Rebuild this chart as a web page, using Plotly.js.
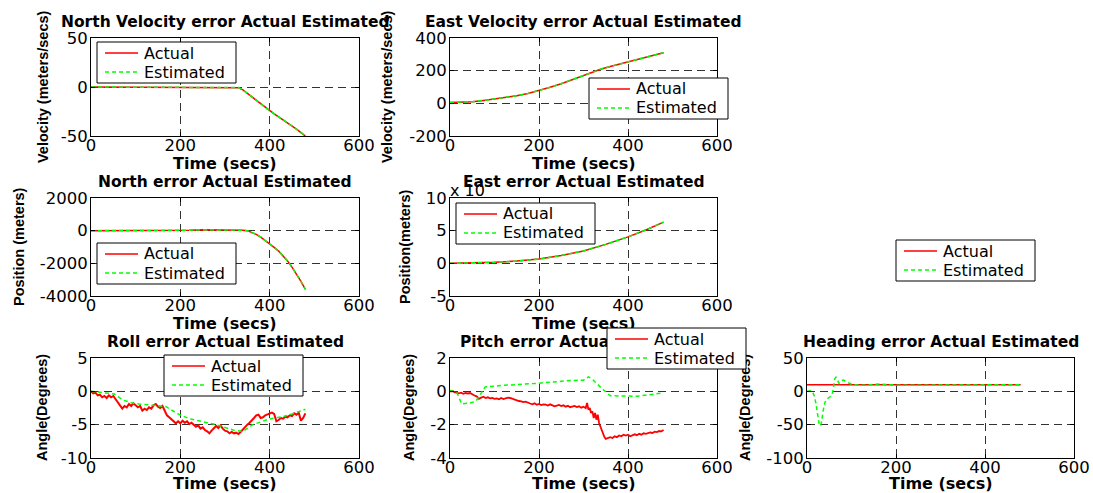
<!DOCTYPE html>
<html>
<head>
<meta charset="utf-8">
<script src="https://cdn.plot.ly/plotly-3.0.1.min.js"></script>
<style>html,body{margin:0;padding:0;background:#fff;}#chart{width:1093px;height:493px;}</style>
</head>
<body>
<div id="chart"></div>
<script>
// ---------------- DATA ----------------
const seriesNames = ['Actual', 'Estimated'];
const timeTicks = [0, 200, 400, 600];
const timeTickText = ['0', '200', '400', '600'];

// North velocity error (m/s)
const tNorthVel = [0, 50, 100, 150, 200, 250, 300, 320, 330, 340, 350, 360, 370, 380, 390, 400, 410, 420, 430, 440, 450, 460, 470, 480];
const northVelActual = [0, 0, 0, 0, 0, 0, 0, 0, -0.7, -3, -6.5, -10, -13.5, -17, -21, -24.5, -27.5, -30.5, -33.5, -36.5, -39.5, -43, -46.5, -50];
const northVelEst = [0, 0, 0, 0, 0, 0, 0, 0, -0.6, -3, -6.4, -10, -13.6, -17, -21, -24.4, -27.6, -30.5, -33.5, -36.6, -39.5, -43, -46.4, -50];
const velTicks = [-50, 0, 50];
const velTickText = ['-50', '0', '50'];

// East velocity error (m/s)
const tEastVel = [0, 25, 50, 75, 100, 125, 150, 175, 200, 225, 250, 275, 300, 325, 340, 360, 380, 400, 420, 440, 460, 480];
const eastVelActual = [5, 7, 10, 18, 27, 36, 46, 60, 78, 98, 120, 145, 170, 195, 210, 225, 240, 255, 268, 282, 296, 310];
const eastVelEst = [5, 7, 10, 18, 27, 36, 46, 60, 78, 98, 120, 145, 170, 195, 210, 225, 240, 255, 268, 282, 296, 310];
const eVelTicks = [-200, 0, 200, 400];
const eVelTickText = ['-200', '0', '200', '400'];

// North position error (m)
const tNorthPos = [0, 50, 100, 150, 200, 220, 250, 300, 340, 350, 360, 370, 380, 390, 400, 410, 420, 430, 440, 450, 460, 470, 480];
const northPosActual = [0, 0, 0, 0, 0, 20, 50, 60, 30, 0, -100, -230, -400, -590, -800, -1020, -1250, -1530, -1850, -2230, -2650, -3100, -3600];
const northPosEst = [0, 0, 0, 0, 0, 25, 55, 60, 30, 0, -100, -230, -400, -590, -800, -1020, -1250, -1530, -1850, -2230, -2650, -3100, -3600];
const nPosTicks = [-4000, -2000, 0, 2000];
const nPosTickText = ['-4000', '-2000', '0', '2000'];

// East position error (x 10^4 m)
const tEastPos = [0, 50, 100, 150, 200, 250, 300, 350, 400, 440, 480];
const eastPosActual = [0, 0.05, 0.15, 0.35, 0.65, 1.2, 1.9, 2.9, 4.05, 5.1, 6.3];
const eastPosEst = [0, 0.05, 0.15, 0.35, 0.65, 1.2, 1.9, 2.9, 4.05, 5.1, 6.3];
const ePosTicks = [-5, 0, 5, 10];
const ePosTickText = ['-5', '0', '5', '10'];

// Roll error (deg)
const tRoll = [0,5,10,15,20,25,30,35,40,45,50,55,60,65,70,75,80,85,90,95,100,105,110,115,120,125,130,135,140,145,150,155,160,165,170,175,180,185,190,195,200,205,210,215,220,225,230,235,240,245,250,255,260,265,270,275,280,285,290,295,300,305,310,315,320,325,330,335,340,345,350,355,360,365,370,375,380,385,390,395,400,405,410,415,420,425,430,435,440,445,450,455,460,465,470,475,480];
const rollActual = [0,-0.3,-0.2,-0.6,-0.5,-0.9,-0.7,-1.0,-0.6,-0.9,-0.7,-1.2,-1.6,-2.0,-2.6,-2.2,-2.4,-1.9,-2.2,-1.8,-2.1,-2.4,-2.2,-2.9,-2.6,-2.8,-2.4,-2.6,-2.1,-1.9,-2.3,-2.5,-2.2,-3.0,-3.6,-3.9,-4.2,-4.4,-4.8,-4.5,-4.8,-4.4,-4.7,-4.5,-4.9,-4.7,-5.0,-5.3,-5.1,-5.6,-5.4,-5.8,-6.0,-6.3,-5.9,-5.6,-5.2,-5.5,-5.1,-5.6,-5.9,-6.0,-6.3,-6.1,-6.3,-6.2,-6.4,-6.1,-5.7,-5.3,-5.0,-4.7,-4.4,-4.0,-3.6,-3.5,-4.0,-3.9,-3.6,-3.5,-3.4,-3.2,-3.4,-4.5,-4.3,-4.0,-4.1,-3.8,-3.9,-3.6,-3.7,-3.3,-3.5,-3.2,-4.4,-4.0,-3.3];
const tRollEst = [0, 20, 40, 52, 60, 71, 90, 108, 140, 168, 180, 198, 220, 243, 260, 280, 300, 318, 340, 350, 362, 380, 392, 410, 430, 450, 480];
const rollEst = [0, -0.2, -0.3, -0.4, -0.8, -1.3, -1.7, -1.9, -2.1, -2.3, -2.8, -3.5, -4.1, -4.5, -4.7, -5.0, -5.4, -5.8, -6.0, -5.6, -5.0, -4.6, -4.3, -4.0, -3.8, -3.4, -2.7];
const rollTicks = [-10, -5, 0, 5];
const rollTickText = ['-10', '-5', '0', '5'];

// Pitch error (deg)
const tPitch = [0,5,10,15,20,25,30,35,40,45,50,55,60,65,70,75,80,85,90,95,100,105,110,115,120,125,130,135,140,145,150,155,160,165,170,175,180,185,190,195,200,205,210,215,220,225,230,235,240,245,250,255,260,265,270,275,280,285,290,295,300,305,308,311,314,317,320,323,326,329,332,335,338,341,344,347,350,355,360,365,370,375,380,385,390,395,400,405,410,415,420,425,430,435,440,445,450,455,460,465,470,475,480];
const pitchActual = [0,0.02,-0.05,-0.1,-0.12,-0.08,-0.15,-0.1,-0.13,-0.1,-0.2,-0.25,-0.3,-0.45,-0.38,-0.32,-0.4,-0.36,-0.42,-0.4,-0.45,-0.43,-0.48,-0.4,-0.46,-0.42,-0.38,-0.4,-0.45,-0.5,-0.52,-0.58,-0.6,-0.65,-0.62,-0.7,-0.73,-0.78,-0.72,-0.8,-0.76,-0.82,-0.78,-0.8,-0.85,-0.78,-0.84,-0.9,-0.86,-0.82,-0.88,-0.84,-0.92,-0.87,-0.95,-0.9,-0.88,-0.94,-0.9,-0.98,-0.92,-1.0,-0.7,-1.1,-1.0,-1.3,-1.2,-1.6,-1.3,-1.7,-1.4,-1.9,-2.1,-2.4,-2.6,-2.75,-2.85,-2.8,-2.75,-2.8,-2.7,-2.75,-2.65,-2.7,-2.6,-2.65,-2.6,-2.7,-2.62,-2.58,-2.63,-2.55,-2.6,-2.52,-2.55,-2.5,-2.47,-2.5,-2.42,-2.45,-2.38,-2.4,-2.32];
const tPitchEst = [0, 15, 26, 45, 58, 79, 120, 195, 270, 300, 311, 319, 340, 360, 420, 478];
const pitchEst = [0.05, -0.05, -0.75, -0.7, -0.6, 0.26, 0.36, 0.48, 0.65, 0.67, 0.87, 0.75, 0.2, -0.26, -0.3, -0.1];
const pitchTicks = [-4, -2, 0, 2];
const pitchTickText = ['-4', '-2', '0', '2'];

// Heading error (deg)
const tHeading = [0, 100, 200, 300, 400, 480];
const headingActual = [10, 10, 10, 10, 10, 10];
const tHeadingEst = [0,5,10,14,17,20,23,27,30,33,36,40,44,48,52,56,59,62,65,68,72,77,82,88,95,103,126,163,201,240,276,320,351,400,426,478];
const headingEst = [0,1,1,-3,-8,-18,-32,-48,-52,-45,-30,-17,-12,-10,-9,-6,3,18,21,17,12,16,17,14,12,10,9,11,9,9,10,10,10,9,9,10];
const headTicks = [-100, -50, 0, 50];
const headTickText = ['-100', '-50', '0', '50'];

// ---------------- LAYOUT HELPERS ----------------
const W = 1093, H = 493;
const px = v => v / W;
const py = v => 1 - v / H;

const RED = '#ff0000', GREEN = '#00ff00';
const DASH = '4px,3px';
const TICKFONT = {family: 'DejaVu Sans', size: 16.5, color: '#000'};

function mkTrace(x, y, xa, ya, name, width) {
  const isAct = name === seriesNames[0];
  return {
    x: x, y: y, xaxis: xa, yaxis: ya, name: name, showlegend: false,
    type: 'scatter', mode: 'lines',
    line: isAct ? {color: RED, width: width || 1.5} : {color: GREEN, width: 1.5, dash: DASH},
    hoverinfo: 'skip'
  };
}

const data = [
  mkTrace(tNorthVel, northVelActual, 'x', 'y', seriesNames[0]),
  mkTrace(tNorthVel, northVelEst, 'x', 'y', seriesNames[1]),
  mkTrace(tEastVel, eastVelActual, 'x2', 'y2', seriesNames[0]),
  mkTrace(tEastVel, eastVelEst, 'x2', 'y2', seriesNames[1]),
  mkTrace(tNorthPos, northPosActual, 'x3', 'y3', seriesNames[0]),
  mkTrace(tNorthPos, northPosEst, 'x3', 'y3', seriesNames[1]),
  mkTrace(tEastPos, eastPosActual, 'x4', 'y4', seriesNames[0]),
  mkTrace(tEastPos, eastPosEst, 'x4', 'y4', seriesNames[1]),
  mkTrace(tRoll, rollActual, 'x5', 'y5', seriesNames[0], 2),
  mkTrace(tRollEst, rollEst, 'x5', 'y5', seriesNames[1]),
  mkTrace(tPitch, pitchActual, 'x6', 'y6', seriesNames[0], 1.8),
  mkTrace(tPitchEst, pitchEst, 'x6', 'y6', seriesNames[1]),
  mkTrace(tHeading, headingActual, 'x7', 'y7', seriesNames[0]),
  mkTrace(tHeadingEst, headingEst, 'x7', 'y7', seriesNames[1])
];

// plot areas in pixels: [left, right] / [top, bottom]
const cols = [[91, 359], [450, 717], [807, 1074]];
const rows = [[38, 136], [198, 296], [358, 458]];

function axisCommon() {
  return {
    showline: true, mirror: 'ticks', linecolor: '#000', linewidth: 1,
    ticks: 'inside', ticklen: 4, tickcolor: '#000',
    showgrid: true, gridcolor: '#333', griddash: '8px,5px', gridwidth: 1,
    zeroline: false, tickfont: TICKFONT, fixedrange: true, tickmode: 'array'
  };
}
function xAxis(col, anchor) {
  return Object.assign(axisCommon(), {
    domain: [px(cols[col][0]), px(cols[col][1])], anchor: anchor,
    range: [0, 600], tickvals: timeTicks, ticktext: timeTickText, ticklabelstandoff: -6
  });
}
function yAxis(row, anchor, rng, vals, txt) {
  return Object.assign(axisCommon(), {
    domain: [py(rows[row][1]), py(rows[row][0])], anchor: anchor,
    range: rng, tickvals: vals, ticktext: txt, ticklabelstandoff: -1
  });
}

const TITLEFONT = {family: 'DejaVu Sans', size: 15.5, color: '#000', weight: 'bold'};
const XTFONT = {family: 'DejaVu Sans', size: 16, color: '#000', weight: 'bold'};
const YTFONT = {family: 'Liberation Sans', size: 14.5, color: '#000', weight: 'bold'};
const LEGFONT = {family: 'DejaVu Sans', size: 16, color: '#000'};

function ann(text, x, y, font, opts) {
  return Object.assign({text: text, x: px(x), y: py(y), xref: 'paper', yref: 'paper',
          showarrow: false, xanchor: 'center', yanchor: 'middle', borderpad: 0,
          font: font}, opts || {});
}

const titles = ['North Velocity error Actual Estimated', 'East Velocity error Actual Estimated',
  'North error Actual Estimated', 'East error Actual Estimated',
  'Roll error Actual Estimated', 'Pitch error Actual Estimated', 'Heading error Actual Estimated'];
const yTitles = ['Velocity (meters/secs)', 'Velocity (meters/secs)', 'Position (meters)', 'Position(meters)',
  'Angle(Degrees)', 'Angle(Degrees)', 'Angle(Degrees)'];
const xTitle = 'Time (secs)';

const cx = c => (cols[c][0] + cols[c][1]) / 2;
const cy = r => (rows[r][0] + rows[r][1]) / 2;
const pos = [[0,0],[1,0],[0,1],[1,1],[0,2],[1,2],[2,2]]; // [col,row]
const yTitleX = [43, 387, 19, 405, 42, 409, 745];
const xTitleOff = [27, 27, 25];

const annotations = [];
annotations.push(ann('x 10', 467, 191, {family: 'DejaVu Sans', size: 16, color: '#000'}));
pos.forEach((p, i) => {
  annotations.push(ann(yTitles[i], yTitleX[i], cy(p[1]), YTFONT, {textangle: -90}));
  annotations.push(ann(xTitle, cx(p[0]), rows[p[1]][1] + xTitleOff[p[1]], XTFONT));
  annotations.push(ann(titles[i], cx(p[0]), rows[p[1]][0] - 16, TITLEFONT));
});

// legend boxes (MATLAB-style), top-left corners in px
const legendBoxes = [[97, 42], [589, 78], [97, 243], [456, 203], [896, 240], [164, 355], [607, 328]];
const LW = 139, LH = 41, ROW1 = 11, ROW2 = 30;
const shapes = [];
legendBoxes.forEach(b => {
  const [L, T] = b;
  shapes.push({type: 'rect', xref: 'paper', yref: 'paper', layer: 'above',
    x0: px(L), x1: px(L + LW), y0: py(T + LH), y1: py(T),
    fillcolor: '#fff', line: {color: '#000', width: 1}});
  shapes.push({type: 'line', xref: 'paper', yref: 'paper', layer: 'above',
    x0: px(L + 8), x1: px(L + 41), y0: py(T + ROW1), y1: py(T + ROW1),
    line: {color: RED, width: 1.5}});
  shapes.push({type: 'line', xref: 'paper', yref: 'paper', layer: 'above',
    x0: px(L + 8), x1: px(L + 41), y0: py(T + ROW2), y1: py(T + ROW2),
    line: {color: GREEN, width: 1.5, dash: DASH}});
  annotations.push(ann(seriesNames[0], L + 46, T + ROW1, LEGFONT, {xanchor: 'left'}));
  annotations.push(ann(seriesNames[1], L + 46, T + ROW2, LEGFONT, {xanchor: 'left'}));
});

const layout = {
  width: W, height: H, autosize: false,
  margin: {l: 0, r: 0, t: 0, b: 0, pad: 0},
  paper_bgcolor: '#fff', plot_bgcolor: '#fff',
  showlegend: false,
  xaxis: xAxis(0, 'y'), yaxis: yAxis(0, 'x', [-50, 50], velTicks, velTickText),
  xaxis2: xAxis(1, 'y2'), yaxis2: yAxis(0, 'x2', [-200, 400], eVelTicks, eVelTickText),
  xaxis3: xAxis(0, 'y3'), yaxis3: yAxis(1, 'x3', [-4000, 2000], nPosTicks, nPosTickText),
  xaxis4: xAxis(1, 'y4'), yaxis4: yAxis(1, 'x4', [-5, 10], ePosTicks, ePosTickText),
  xaxis5: xAxis(0, 'y5'), yaxis5: yAxis(2, 'x5', [-10, 5], rollTicks, rollTickText),
  xaxis6: xAxis(1, 'y6'), yaxis6: yAxis(2, 'x6', [-4, 2], pitchTicks, pitchTickText),
  xaxis7: xAxis(2, 'y7'), yaxis7: yAxis(2, 'x7', [-100, 50], headTicks, headTickText),
  shapes: shapes,
  annotations: annotations
};

Plotly.newPlot('chart', data, layout, {displayModeBar: false, staticPlot: true}).then(gd => {
  // MATLAB draws legends above titles: put title/axis-title annotations beneath the legend boxes
  const above = gd.querySelector('.main-svg .layer-above');
  if (!above) return;
  const under = titles.concat(yTitles, [xTitle, 'x 10']);
  gd.querySelectorAll('.infolayer g.annotation').forEach(a => {
    if (under.indexOf(a.textContent) >= 0) above.insertBefore(a, above.firstChild);
  });
});
</script>
</body>
</html>
